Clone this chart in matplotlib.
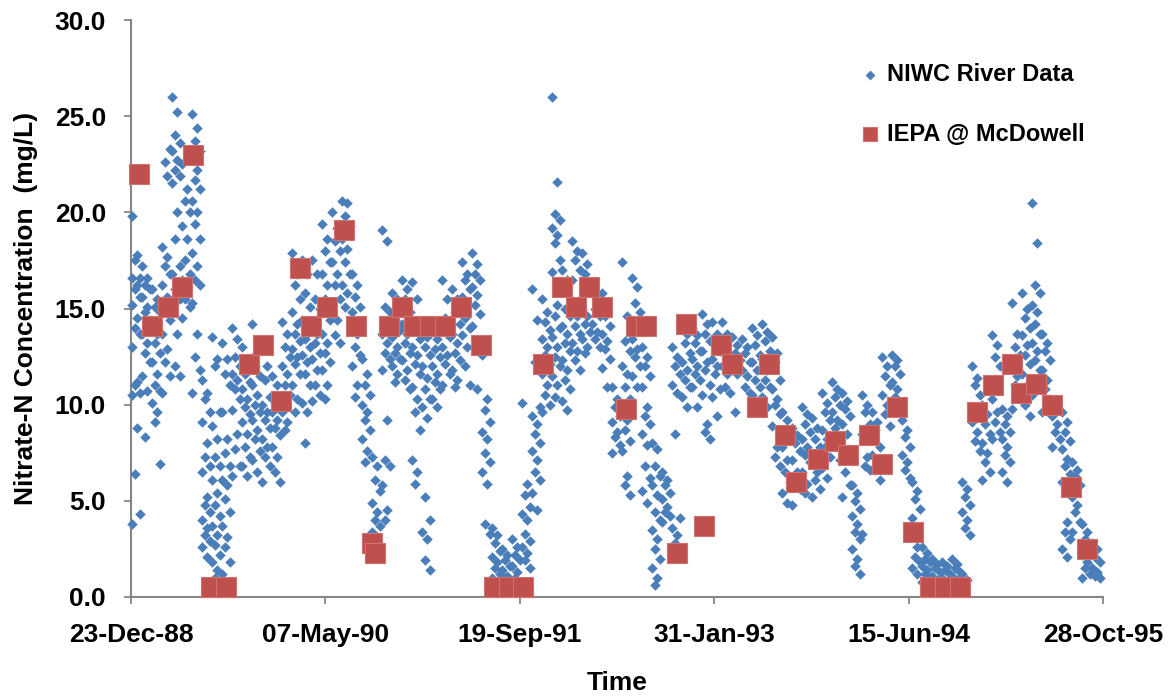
import numpy as np
import pandas as pd
import matplotlib
matplotlib.use("Agg")
from matplotlib import pyplot as plt
import matplotlib.dates as mdates
from matplotlib.ticker import FormatStrFormatter

start = pd.Timestamp("1988-12-23")
win = 25.72  # days in each reading window of the river data

# NIWC river data, nitrate-N (mg/L), one sub-list per ~26 day window
niwc_89 = [
    [19.8, 17.8, 17.5, 16.6, 16.6, 16.2, 16.0, 15.6, 15.2, 14.5, 14.0, 13.7, 13.0, 11.2, 11.0, 10.6, 10.5, 8.8, 6.4, 4.3, 3.8],
    [17.2, 16.6, 16.2, 16.0, 15.6, 15.1, 14.8, 14.4, 13.7, 13.2, 12.7, 12.2, 11.5, 10.7, 8.3],
    [16.0, 15.5, 15.1, 14.8, 14.3, 13.7, 13.2, 12.7, 12.2, 11.6, 11.0, 10.7, 10.1, 9.6, 9.1, 6.9],
    [18.2, 17.7, 17.2, 16.8, 16.2, 15.6, 15.1, 14.4, 13.7, 12.9, 12.2, 11.5, 10.6, 21.9, 22.6, 23.3],
    [26.0, 25.2, 24.0, 23.6, 23.2, 22.7, 22.2, 21.9, 21.5, 20.0, 18.6, 17.2, 16.8, 16.4, 16.0, 15.5, 14.8, 13.7, 12.0, 11.5],
    [22.5, 21.2, 20.6, 20.0, 19.3, 18.6, 17.5, 16.8, 16.5, 16.0, 15.5, 15.1, 14.5],
    [25.1, 24.4, 23.7, 23.2, 22.7, 22.2, 21.7, 21.2, 20.6, 20.0, 19.4, 18.6, 17.9, 17.2, 16.5, 16.2, 15.3, 13.7, 12.5, 11.8, 10.6],
    [11.3, 10.6, 10.3, 9.6, 9.1, 8.0, 7.3, 6.8, 6.5, 5.2, 4.8, 4.4, 4.0, 3.6, 3.2, 2.9, 2.6, 2.1],
    [13.5, 12.4, 12.0, 9.6, 8.9, 8.2, 7.3, 6.8, 6.1, 5.4, 4.8, 4.2, 3.7, 3.2, 2.7, 2.2, 1.8, 1.4, 1.0],
    [13.2, 12.4, 11.6, 11.0, 9.6, 8.2, 7.5, 6.8, 6.1, 5.8, 5.1, 4.4, 3.7, 3.1, 2.6, 1.8, 1.2],
    [14.0, 13.4, 12.5, 12.0, 11.6, 11.3, 10.8, 10.3, 9.7, 8.5, 7.7, 6.8, 6.3],
    [13.0, 12.4, 11.6, 11.2, 10.8, 10.3, 9.9, 9.5, 9.1, 8.5, 7.8, 7.3, 6.8, 6.3],
    [14.2, 12.7, 12.0, 11.5, 11.0, 10.5, 10.0, 9.6, 9.2, 8.7, 8.2, 7.6, 7.1, 6.5],
    [12.8, 12.0, 11.3, 10.4, 10.0, 9.6, 9.2, 8.8, 8.2, 7.8, 7.3, 6.8, 6.0],
]
niwc_90 = [
    [11.5, 11.0, 10.4, 10.0, 9.6, 9.2, 8.8, 8.4, 7.8, 7.3, 6.5, 6.0],
    [14.3, 13.7, 13.0, 12.5, 12.0, 11.6, 11.0, 10.5, 9.6, 9.1, 8.7],
    [17.9, 16.8, 16.2, 15.5, 14.8, 14.2, 13.7, 13.3, 12.9, 12.5, 12.1, 11.6, 11.0, 10.3, 9.6],
    [17.5, 16.8, 15.8, 15.1, 14.4, 13.7, 13.4, 13.0, 12.6, 12.2, 11.6, 11.0, 10.1, 9.6, 8.0],
    [17.5, 16.8, 15.5, 15.0, 14.2, 13.7, 13.2, 12.7, 12.4, 11.8, 11.0, 10.5, 10.2],
    [19.4, 18.6, 18.0, 17.4, 16.8, 16.2, 15.5, 14.4, 13.7, 13.2, 12.7, 12.2, 11.8, 11.0, 10.3],
    [20.0, 19.2, 18.5, 18.0, 17.4, 16.8, 16.2, 15.5, 15.0, 14.4, 13.6, 13.2],
    [20.6, 20.5, 19.8, 19.3, 18.6, 18.1, 17.4, 16.8, 16.2, 15.8, 15.1],
    [16.8, 16.2, 15.6, 15.1, 14.8, 13.7, 13.0, 12.6, 12.0, 11.0, 10.4],
    [12.4, 11.6, 11.0, 10.5, 10.0, 9.6, 9.2, 8.7, 8.2, 7.6, 7.0],
    [7.3, 6.8, 6.1, 5.5, 4.9, 4.4, 4.0, 3.7, 3.4, 3.1, 2.9],
    [19.1, 18.5, 15.1, 14.8, 13.7, 13.2, 12.7, 12.4, 11.8, 9.2, 7.1, 6.8, 5.8, 4.5, 4.0],
    [15.8, 15.5, 14.4, 13.9, 13.5, 13.0, 12.7, 12.4, 12.0, 11.6, 11.2],
    [16.5, 16.0, 15.5, 14.8, 14.2, 13.7, 13.2, 12.7, 12.3, 11.8, 11.3, 10.8],
]
niwc_91 = [
    [16.4, 15.5, 14.0, 13.4, 13.0, 12.6, 12.1, 11.6, 10.9, 10.3, 9.6, 8.7, 7.1, 6.5, 5.9],
    [14.0, 13.5, 13.0, 12.6, 12.0, 11.4, 10.8, 10.3, 9.9, 9.3, 5.2, 4.0, 3.4, 3.0, 1.9, 1.4],
    [14.0, 13.4, 12.9, 12.5, 12.0, 11.6, 11.2, 10.8, 10.3, 9.9],
    [16.5, 15.5, 14.5, 13.5, 13.0, 12.6, 12.1, 11.6, 11.0],
    [16.0, 15.5, 14.8, 14.2, 13.7, 13.2, 12.7, 12.3, 11.8, 11.3, 10.9],
    [17.4, 16.8, 16.5, 16.0, 15.6, 15.1, 14.5, 14.0, 13.6, 13.0, 12.0, 11.0],
    [17.9, 17.3, 16.8, 16.5, 16.1, 15.7, 15.2, 14.7, 14.1, 10.8],
    [12.6, 10.3, 9.7, 9.1, 8.6, 8.2, 7.5, 7.0, 6.5, 5.9, 3.8, 3.3],
    [3.6, 3.2, 2.8, 2.4, 2.1, 1.8, 1.5, 1.2, 1.0, 0.8],
    [2.5, 2.2, 1.9, 1.6, 1.4, 1.1, 0.9, 0.7],
    [3.0, 2.6, 2.2, 1.9, 1.6, 1.3, 1.0, 0.8, 0.6],
    [10.1, 5.9, 5.3, 4.7, 4.3, 4.0, 3.3, 2.9, 2.6, 2.3, 1.9, 1.5],
    [16.0, 14.4, 12.2, 9.9, 9.4, 9.0, 8.5, 8.0, 7.6, 7.1, 6.5, 6.1, 5.4, 4.5],
    [15.5, 14.8, 14.3, 13.9, 13.4, 13.0, 12.6, 12.1, 11.6, 11.0, 10.5, 10.0, 9.6],
]
niwc_92 = [
    [26.0, 21.6, 19.9, 19.6, 19.2, 18.8, 18.4, 17.5, 16.9, 15.2, 14.6, 14.0, 13.5, 13.0, 12.5, 12.0, 11.5, 11.0, 10.4],
    [17.0, 16.5, 15.0, 14.6, 14.1, 13.7, 13.2, 12.8, 12.3, 11.8, 11.3, 10.8, 10.2, 9.7],
    [18.5, 18.0, 17.5, 17.0, 16.5, 14.6, 14.1, 13.7, 13.2, 12.8, 12.3, 11.8],
    [17.9, 17.3, 16.8, 16.3, 15.0, 14.6, 14.2, 13.8, 13.4, 13.0, 12.7],
    [16.0, 15.5, 15.0, 14.6, 14.2, 13.8, 13.4, 13.0],
    [15.8, 15.0, 14.6, 14.1, 13.7, 13.3, 12.9, 12.4, 11.9, 10.9],
    [10.9, 10.3, 9.9, 9.4, 9.1, 8.6, 8.3, 7.9, 7.5],
    [17.4, 14.6, 13.3, 12.8, 12.0, 11.6, 10.9, 10.3, 9.7, 9.2, 8.7, 8.1, 7.6, 6.3, 5.8, 5.3],
    [16.6, 16.1, 15.3, 14.8, 13.4, 12.9, 12.5, 12.0, 11.5, 10.9],
    [13.0, 12.5, 12.0, 11.5, 10.9, 9.9, 9.4, 9.0, 8.5, 7.9, 6.8, 6.2, 5.5, 4.9],
    [8.0, 7.7, 6.8, 6.3, 5.8, 5.3, 4.4, 4.0, 3.5, 3.0, 2.5, 2.0, 1.5, 1.0, 0.6],
    [6.5, 6.1, 5.8, 5.4, 5.1, 4.7, 4.4, 4.2, 3.9],
    [13.0, 12.5, 12.0, 11.6, 11.0, 10.6, 8.5, 4.1, 3.6, 3.2, 2.8],
    [14.4, 13.7, 13.2, 12.7, 12.2, 11.8, 11.3, 10.9, 10.4, 9.9],
]
niwc_93 = [
    [14.0, 13.6, 13.2, 12.8, 12.4, 12.0, 11.6, 11.3, 10.9, 9.9],
    [14.7, 14.2, 13.7, 13.3, 12.8, 12.2, 11.8, 11.0, 10.5, 9.0, 8.6, 8.2],
    [14.3, 13.7, 13.3, 12.8, 12.4, 12.0, 11.6, 10.8, 10.4, 9.4],
    [14.3, 13.7, 13.2, 12.5, 12.0, 11.6, 10.9, 10.6],
    [13.5, 13.1, 12.7, 12.3, 12.0, 11.6, 9.6],
    [13.4, 13.0, 12.7, 12.2, 11.8, 11.5, 10.9, 10.6],
    [14.0, 13.6, 13.1, 12.6, 12.2, 11.8, 11.3, 10.9, 10.5],
    [14.2, 13.8, 13.3, 12.8, 12.4, 11.8, 11.3, 10.9, 10.4, 9.9],
    [13.5, 12.7, 12.2, 11.3, 10.8, 10.3, 10.0, 9.5, 8.9, 7.8, 7.3, 6.8],
    [9.6, 9.2, 8.7, 8.2, 7.8, 7.1, 6.5, 6.0, 5.4, 4.9],
    [8.8, 8.4, 8.0, 7.6, 7.1, 6.5, 6.0, 5.6, 4.8],
    [9.9, 9.5, 9.0, 8.6, 8.2, 7.8, 7.4, 7.0, 6.5, 5.9, 5.4],
    [9.3, 8.8, 8.2, 7.8, 7.0, 6.5, 6.1, 5.6, 5.2],
    [10.6, 10.1, 9.6, 9.2, 8.7, 8.2, 7.8, 7.3, 6.7, 6.2],
]
niwc_94 = [
    [11.2, 10.8, 10.4, 10.0, 9.6, 9.2, 8.8, 7.1],
    [10.6, 10.2, 9.8, 9.4, 9.0, 8.5, 6.5, 5.8, 5.2],
    [5.8, 5.4, 5.0, 4.6, 4.2, 3.8, 3.4, 3.0, 2.5, 2.0, 1.6, 1.2],
    [10.5, 10.0, 9.6, 9.0, 8.5, 7.3, 6.8, 6.6, 3.3],
    [9.6, 9.1, 8.7, 7.8, 7.4, 7.1, 6.6, 6.1],
    [12.5, 12.0, 11.5, 11.0, 10.5, 10.0, 9.5, 8.9],
    [12.6, 12.3, 12.0, 11.6, 11.2, 10.8, 10.4, 10.0],
    [9.2, 8.7, 8.3, 7.8, 7.4, 7.0, 6.6, 6.2],
    [6.0, 5.5, 5.1, 4.6, 4.1, 2.6, 2.1, 1.8, 1.5, 1.2],
    [2.6, 2.3, 2.0, 1.8, 1.6, 1.4, 1.2, 1.0, 0.8, 0.6],
    [2.0, 1.7, 1.5, 1.3, 1.1, 0.9, 0.7],
    [1.8, 1.6, 1.4, 1.2, 1.0, 0.8],
    [2.0, 1.7, 1.5, 1.3, 1.1, 0.9],
    [6.0, 5.6, 5.2, 4.8, 4.4, 4.0, 3.6, 3.2, 1.2, 0.9],
]
niwc_95 = [
    [12.0, 11.4, 11.0, 10.5, 9.1, 8.6, 8.1, 7.6],
    [10.0, 9.5, 9.0, 8.5, 8.0, 7.5, 7.0, 6.5, 6.1],
    [13.6, 13.1, 12.5, 12.0, 10.3, 9.6, 9.1, 8.6, 8.2],
    [9.8, 9.4, 9.0, 8.6, 8.2, 7.8, 7.4, 7.0, 6.5, 6.0],
    [15.3, 13.7, 13.0, 12.6, 12.0, 11.5, 11.0, 10.3, 9.8],
    [15.8, 15.0, 14.5, 14.0, 13.6, 13.1, 12.6, 12.1, 11.6, 11.0, 10.0, 9.4],
    [20.5, 18.4, 16.2, 15.8, 15.2, 14.8, 14.2, 13.7, 13.2, 12.8, 12.3, 11.8, 10.5],
    [13.7, 13.2, 12.8, 12.3, 11.8, 11.3, 10.8, 10.3, 9.6],
    [9.4, 9.0, 8.6, 8.2, 7.8],
    [9.6, 9.1, 8.6, 8.1, 7.7, 7.2, 6.8, 6.4, 6.0, 3.9, 3.4, 3.0, 2.5, 2.1],
    [7.0, 6.6, 6.3, 5.8, 5.2, 4.8, 4.4, 3.9, 3.4],
    [3.8, 3.4, 3.0, 2.6, 2.2, 1.8, 1.5, 1.2, 1.0],
    [2.8, 2.5, 2.1, 1.8, 1.5, 1.3, 1.1, 1.0, 1.5, 1.2],
]

# IEPA @ McDowell samples: days after 23-Dec-88 and nitrate-N (mg/L)
iepa_day = [21, 54, 95, 131, 159, 206, 244, 303, 340, 386, 435, 463, 504, 548, 579,
            620, 628, 664, 697, 728, 769, 808, 849, 900, 934, 972, 1008, 1060, 1109,
            1145, 1178, 1211, 1273, 1299, 1325, 1404, 1427, 1474, 1517, 1546, 1610,
            1641, 1682, 1710, 1767, 1811, 1844, 1898, 1932, 1970, 2011, 2055, 2094,
            2132, 2176, 2217, 2266, 2289, 2328, 2369, 2418, 2459]
iepa_val = [22.0, 14.1, 15.1, 16.1, 23.0, 0.5, 0.5, 12.1, 13.1, 10.2, 17.1, 14.1, 15.1,
            19.1, 14.1, 2.8, 2.3, 14.1, 15.1, 14.1, 14.1, 14.1, 15.1, 13.1, 0.5, 0.5,
            0.5, 12.1, 16.1, 15.1, 16.1, 15.1, 9.8, 14.1, 14.1, 2.3, 14.2, 3.7, 13.1,
            12.1, 9.9, 12.1, 8.4, 6.0, 7.2, 8.1, 7.4, 8.4, 6.9, 9.9, 3.4, 0.5, 0.5,
            0.5, 9.6, 11.0, 12.1, 10.6, 11.1, 10.0, 5.7, 2.5]

windows = niwc_89 + niwc_90 + niwc_91 + niwc_92 + niwc_93 + niwc_94 + niwc_95
spread = [0.125, 0.625, 0.375, 0.875]  # where readings sit inside a window
t0 = mdates.date2num(start)
niwc_x, niwc_y = [], []
for k, vals in enumerate(windows):
    for j, v in enumerate(vals):
        niwc_x.append(t0 + (k + spread[j % 4]) * win)
        niwc_y.append(v)
iepa_x = t0 + np.array(iepa_day)

plt.rcParams['font.family'] = ['Liberation Sans', 'DejaVu Sans']
plt.rcParams['font.weight'] = 'bold'

fig = plt.figure(figsize=(11.69, 6.98), dpi=100)
ax = fig.add_axes([131/1169, 1 - 597/698, 972/1169, 577/698])

ax.scatter(niwc_x, niwc_y, marker='D', s=25, color='#4A7EBB', linewidths=0.3,
           edgecolors='#4A7EBB', label='NIWC River Data', clip_on=False, zorder=3)
ax.scatter(iepa_x, iepa_val, marker='s', s=200, color='#C0504D', edgecolors='#CF7371',
           linewidths=0.8, label='IEPA @ McDowell', clip_on=False, zorder=4)

ax.set_xlim(t0, t0 + 2500)
ax.set_ylim(0, 30)
ax.set_xticks([t0 + 500 * i for i in range(6)])
ax.xaxis.set_major_formatter(mdates.DateFormatter('%d-%b-%y'))
ax.set_yticks(np.arange(0, 31, 5))
ax.yaxis.set_major_formatter(FormatStrFormatter('%.1f'))

for side in ['top', 'right']:
    ax.spines[side].set_visible(False)
for side in ['left', 'bottom']:
    ax.spines[side].set_color('#868686')
    ax.spines[side].set_linewidth(1.5)
ax.tick_params(axis='both', direction='out', length=5, width=1.3, color='#868686',
               labelsize=19)
ax.tick_params(axis='x', pad=14)
ax.tick_params(axis='y', pad=13)

ax.set_xlabel('Time', fontsize=19, fontweight='bold', labelpad=17)
ax.set_ylabel('Nitrate-N Concentration  (mg/L)', fontsize=19, fontweight='bold', labelpad=12)

leg = ax.legend(loc='upper left', bbox_to_anchor=(862/1169, 1 - 63/698),
                bbox_transform=fig.transFigure, frameon=False, fontsize=17,
                labelspacing=1.55, handlelength=0.7, handletextpad=0.35,
                borderpad=0, borderaxespad=0)
leg.legend_handles[0].set_sizes([22])
leg.legend_handles[1].set_sizes([110])

fig.savefig('out.png', dpi=100)
